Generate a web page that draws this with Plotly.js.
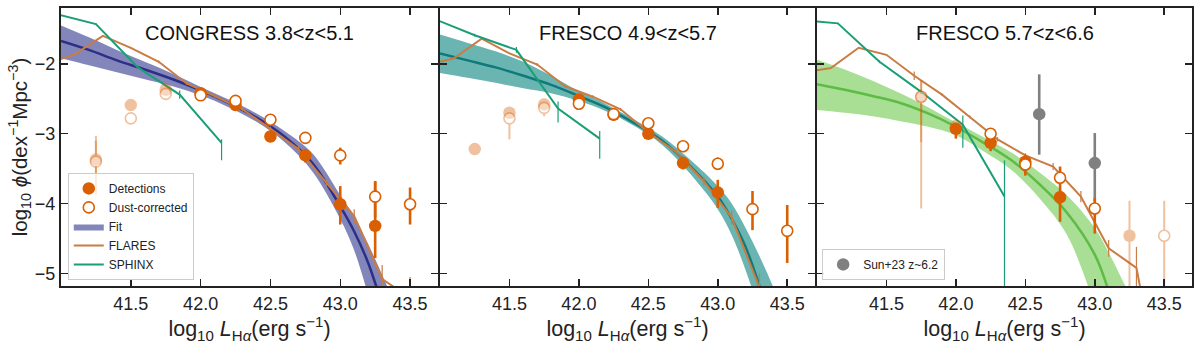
<!DOCTYPE html>
<html>
<head>
<meta charset="utf-8">
<script src="https://cdn.plot.ly/plotly-3.0.1.min.js"></script>
<style>
  body { margin: 0; background: #fff; }
  #chart { width: 1200px; height: 344px; }
</style>
</head>
<body>
<div id="chart"></div>
<script>
// ---- data (log10 L_Halpha, log10 phi) ----
const L_fit = [41.0, 41.2, 41.4, 41.6, 41.8, 42.0, 42.2, 42.4, 42.6, 42.8, 43.0, 43.1, 43.2, 43.3, 43.4, 43.5];

const fit1_mid = [-1.67, -1.80, -1.95, -2.08, -2.22, -2.38, -2.56, -2.77, -3.04, -3.42, -4.04, -4.40, -4.85, -5.45, -6.1, -6.8];
const fit1_lo  = [-1.92, -2.02, -2.12, -2.22, -2.32, -2.45, -2.62, -2.83, -3.12, -3.54, -4.22, -4.67, -5.30, -5.9, -6.6, -7.3];
const fit1_hi  = [-1.45, -1.62, -1.80, -1.97, -2.14, -2.33, -2.51, -2.71, -2.96, -3.28, -3.88, -4.18, -4.58, -5.02, -5.5, -6.1];

const fit2_mid = [-1.85, -1.95, -2.05, -2.17, -2.30, -2.46, -2.63, -2.85, -3.10, -3.46, -3.90, -4.22, -4.62, -5.18, -5.8, -6.5];
const fit2_lo  = [-2.13, -2.20, -2.27, -2.35, -2.42, -2.53, -2.68, -2.89, -3.16, -3.57, -4.08, -4.45, -4.95, -5.55, -6.2, -6.9];
const fit2_hi  = [-1.58, -1.70, -1.82, -1.97, -2.17, -2.39, -2.58, -2.80, -3.04, -3.37, -3.75, -4.00, -4.35, -4.75, -5.2, -5.7];

const fit3_mid = [-2.29, -2.37, -2.46, -2.56, -2.71, -2.90, -3.13, -3.38, -3.72, -4.13, -4.73, -5.25, -5.9, -6.6, -7.4, -8.2];
const fit3_lo  = [-2.66, -2.70, -2.75, -2.82, -2.90, -3.02, -3.25, -3.52, -3.92, -4.45, -5.45, -6.0, -6.7, -7.4, -8.2, -9.0];
const fit3_hi  = [-1.94, -2.08, -2.24, -2.42, -2.62, -2.84, -3.05, -3.27, -3.55, -3.88, -4.35, -4.70, -5.10, -5.5, -6.0, -6.5];

// FLARES
const L_flares = [40.9, 41.1, 41.3, 41.5, 41.7, 41.9, 42.1, 42.3, 42.5, 42.7, 42.9, 43.1, 43.3, 43.5];
const flares1 = [-2.00, -1.86, -1.60, -1.77, -1.97, -2.28, -2.46, -2.65, -2.93, -3.22, -3.70, -4.18, -5.08, -5.35];
const flares2 = [-2.02, -1.92, -1.64, -1.85, -2.01, -2.32, -2.47, -2.65, -2.98, -3.26, -3.68, -4.20, -5.20, -5.60];
const flares3 = [-2.12, -2.06, -1.77, -1.87, -2.17, -2.44, -2.76, -3.08, -3.31, -3.47, -3.90, -4.64, -4.92, -7.00];
const flares1_err = [0, 0, 0.01, 0.01, 0.02, 0.02, 0.02, 0.02, 0.03, 0.04, 0.05, 0.10, 0.2, 0.3];
const flares2_err = [0, 0, 0.01, 0.01, 0.02, 0.02, 0.02, 0.02, 0.03, 0.04, 0.06, 0.10, 0.2, 0.3];
const flares3_err = [0, 0, 0.01, 0.01, 0.06, 0.02, 0.02, 0.03, 0.03, 0.05, 0.08, 0.12, 0.3, 0.3];

// SPHINX
const L_sphinx12 = [40.95, 41.25, 41.55, 41.85, 42.15];
const sphinx1 = [-1.28, -1.43, -2.05, -2.44, -3.13];
const sphinx1_ep = [0, 0.01, 0.02, 0.06, 0.05];
const sphinx1_em = [0, 0.01, 0.02, 0.06, 0.25];
const sphinx2 = [-1.35, -1.59, -1.80, -2.64, -3.07];
const sphinx2_ep = [0, 0.02, 0.04, 0.10, 0.11];
const sphinx2_em = [0, 0.02, 0.04, 0.20, 0.29];
const L_sphinx3 = [40.85, 41.15, 41.45, 41.75, 42.05, 42.35];
const sphinx3 = [-1.37, -1.42, -1.97, -2.40, -2.87, -3.90];
const sphinx3_ep = [0, 0.01, 0.02, 0.03, 0.13, 0.52];
const sphinx3_em = [0, 0.01, 0.02, 0.03, 0.33, 3.0];

// CONGRESS 3.8<z<5.1
const det1_x = [42.0, 42.25, 42.5, 42.75, 43.0, 43.25];
const det1_y = [-2.42, -2.59, -3.04, -3.31, -4.01, -4.32];
const det1_ep = [0.04, 0.04, 0.05, 0.09, 0.26, 0.64];
const det1_em = [0.04, 0.04, 0.06, 0.10, 0.29, 0.46];
const dust1_x = [42.0, 42.25, 42.5, 42.75, 43.0, 43.25, 43.5];
const dust1_y = [-2.45, -2.53, -2.80, -3.06, -3.31, -3.90, -4.01];
const dust1_ep = [0.03, 0.03, 0.03, 0.07, 0.11, 0.22, 0.24];
const dust1_em = [0.03, 0.03, 0.03, 0.07, 0.13, 0.30, 0.29];
const fdet1_x = [41.25, 41.5, 41.75];
const fdet1_y = [-3.37, -2.59, -2.37];
const fdet1_ep = [0.34, 0.05, 0.05];
const fdet1_em = [0.51, 0.05, 0.05];
const fdust1_x = [41.25, 41.5, 41.75];
const fdust1_y = [-3.40, -2.78, -2.43];
const fdust1_ep = [0.30, 0.06, 0.05];
const fdust1_em = [0.45, 0.08, 0.05];

// FRESCO 4.9<z<5.7
const det2_x = [42.0, 42.25, 42.5, 42.75, 43.0];
const det2_y = [-2.51, -2.73, -3.00, -3.42, -3.84];
const det2_ep = [0.04, 0.03, 0.06, 0.09, 0.18];
const det2_em = [0.04, 0.03, 0.06, 0.09, 0.22];
const dust2_x = [42.0, 42.25, 42.5, 42.75, 43.0, 43.25, 43.5];
const dust2_y = [-2.57, -2.72, -2.85, -3.18, -3.43, -4.08, -4.39];
const dust2_ep = [0.03, 0.03, 0.04, 0.06, 0.09, 0.26, 0.37];
const dust2_em = [0.03, 0.03, 0.04, 0.06, 0.09, 0.30, 0.46];
const fdet2_x = [41.25, 41.5, 41.75];
const fdet2_y = [-3.22, -2.70, -2.58];
const fdet2_ep = [0, 0.06, 0.08];
const fdet2_em = [0, 0.06, 0.08];
const fdust2_x = [41.5, 41.75];
const fdust2_y = [-2.78, -2.63];
const fdust2_ep = [0.06, 0.06];
const fdust2_em = [0.30, 0.12];

// FRESCO 5.7<z<6.6
const det3_x = [42.0, 42.25, 42.5, 42.75];
const det3_y = [-2.93, -3.13, -3.40, -3.91];
const det3_ep = [0.05, 0.05, 0.10, 0.44];
const det3_em = [0.14, 0.12, 0.20, 0.35];
const dust3_x = [42.25, 42.5, 42.75, 43.0];
const dust3_y = [-3.00, -3.44, -3.63, -4.07];
const dust3_ep = [0.03, 0.08, 0.08, 0.15];
const dust3_em = [0.03, 0.08, 0.08, 0.36];
const fdet3_x = [41.75, 42.0, 43.25];
const fdet3_y = [-2.47, -2.89, -4.46];
const fdet3_ep = [0.23, 0.04, 0.50];
const fdet3_em = [1.60, 0.10, 2.0];
const fdust3_x = [41.75, 43.5];
const fdust3_y = [-2.47, -4.46];
const fdust3_ep = [0.23, 0.50];
const fdust3_em = [0.65, 2.0];
const sun_x = [42.6, 43.0];
const sun_y = [-2.72, -3.42];
const sun_ep = [0.57, 0.43];
const sun_em = [0.58, 0.55];

const panelTitles = ['CONGRESS 3.8&lt;z&lt;5.1', 'FRESCO 4.9&lt;z&lt;5.7', 'FRESCO 5.7&lt;z&lt;6.6'];

// ---- styling ----
const ORANGE = '#d95f02';
const FLARES_C = '#c97c43';
const SPHINX_C = '#1b9e77';
const FIT_FILL = ['#8386ba', '#6ab4b2', '#a9de95'];
const FIT_LINE = ['#2d2f86', '#0f7a7a', '#5dbb46'];

function ax(n) {
  return n === 1 ? {xaxis: 'x', yaxis: 'y'} : {xaxis: 'x' + n, yaxis: 'y' + n};
}

function errs(ep, em, color, thick) {
  return {type: 'data', symmetric: false, array: ep, arrayminus: em,
          color: color, thickness: thick, width: 0};
}

function fitTraces(n, lo, mid, hi) {
  return [
    Object.assign({x: L_fit, y: lo, mode: 'lines', line: {width: 0, shape: 'spline', color: FIT_FILL[n-1]},
                   showlegend: false, hoverinfo: 'skip'}, ax(n)),
    Object.assign({x: L_fit, y: hi, mode: 'lines', fill: 'tonexty', fillcolor: FIT_FILL[n-1],
                   line: {width: 0, shape: 'spline', color: FIT_FILL[n-1]}, name: 'Fit',
                   showlegend: n === 1, legendrank: 3}, ax(n)),
    Object.assign({x: L_fit, y: mid, mode: 'lines', line: {width: 2.5, shape: 'spline', color: FIT_LINE[n-1]},
                   showlegend: false}, ax(n))
  ];
}

function simLine(n, x, y, ep, em, color, name, rank, w) {
  return Object.assign({x: x, y: y, mode: 'lines', name: name, line: {color: color, width: w},
                        error_y: errs(ep, em, color, 1.2), showlegend: n === 1, legendrank: rank}, ax(n));
}

function points(n, x, y, ep, em, open, faded, name, rank) {
  return Object.assign({
    x: x, y: y, mode: 'markers', name: name,
    opacity: faded ? 0.38 : 1,
    marker: {symbol: 'circle', size: open ? 11 : 12.5,
             color: open ? '#ffffff' : ORANGE,
             line: {color: ORANGE, width: open ? 1.6 : 0}},
    error_y: errs(ep, em, ORANGE, faded ? 2 : 2.6),
    showlegend: !faded && n === 1, legendrank: rank
  }, ax(n));
}

const traces = [].concat(
  fitTraces(1, fit1_lo, fit1_mid, fit1_hi),
  fitTraces(2, fit2_lo, fit2_mid, fit2_hi),
  fitTraces(3, fit3_lo, fit3_mid, fit3_hi),
  [
    simLine(1, L_flares, flares1, flares1_err, flares1_err, FLARES_C, 'FLARES', 4, 2),
    simLine(2, L_flares, flares2, flares2_err, flares2_err, FLARES_C, 'FLARES', 4, 2),
    simLine(3, L_flares, flares3, flares3_err, flares3_err, FLARES_C, 'FLARES', 4, 2),
    simLine(1, L_sphinx12, sphinx1, sphinx1_ep, sphinx1_em, SPHINX_C, 'SPHINX', 5, 2),
    simLine(2, L_sphinx12, sphinx2, sphinx2_ep, sphinx2_em, SPHINX_C, 'SPHINX', 5, 2),
    simLine(3, L_sphinx3, sphinx3, sphinx3_ep, sphinx3_em, SPHINX_C, 'SPHINX', 5, 2),

    points(1, fdet1_x, fdet1_y, fdet1_ep, fdet1_em, false, true, 'faded', 9),
    points(1, fdust1_x, fdust1_y, fdust1_ep, fdust1_em, true, true, 'faded', 9),
    points(2, fdet2_x, fdet2_y, fdet2_ep, fdet2_em, false, true, 'faded', 9),
    points(2, fdust2_x, fdust2_y, fdust2_ep, fdust2_em, true, true, 'faded', 9),
    points(3, fdet3_x, fdet3_y, fdet3_ep, fdet3_em, false, true, 'faded', 9),
    points(3, fdust3_x, fdust3_y, fdust3_ep, fdust3_em, true, true, 'faded', 9),

    Object.assign({x: sun_x, y: sun_y, mode: 'markers', name: 'Sun+23 z~6.2', legend: 'legend2',
                   marker: {size: 12.5, color: '#808080'},
                   error_y: errs(sun_ep, sun_em, '#808080', 2.6)}, ax(3)),

    points(1, det1_x, det1_y, det1_ep, det1_em, false, false, 'Detections', 1),
    points(1, dust1_x, dust1_y, dust1_ep, dust1_em, true, false, 'Dust-corrected', 2),
    points(2, det2_x, det2_y, det2_ep, det2_em, false, false, 'Detections', 1),
    points(2, dust2_x, dust2_y, dust2_ep, dust2_em, true, false, 'Dust-corrected', 2),
    points(3, det3_x, det3_y, det3_ep, det3_em, false, false, 'Detections', 1),
    points(3, dust3_x, dust3_y, dust3_ep, dust3_em, true, false, 'Dust-corrected', 2)
  ]
);

const axisColor = '#222222';
const xTitle = 'log<sub>10</sub> <i>L</i><sub>H<i>α</i></sub>(erg s<sup>−1</sup>)';
const yTitle = 'log<sub>10</sub> <i>ϕ</i>(dex<sup>−1</sup>Mpc<sup>−3</sup>)';
const GAP = 2 / 1131;   // lets neighbouring frame lines fall on top of each other

function xAxis(n) {
  return {
    domain: [(n-1)/3 + (n > 1 ? GAP : 0), n/3], anchor: n === 1 ? 'y' : 'y' + n,
    range: [41.0, 43.7],
    tickvals: [41.5, 42.0, 42.5, 43.0, 43.5],
    ticktext: ['41.5', '42.0', '42.5', '43.0', '43.5'],
    ticks: 'inside', ticklen: 7, tickwidth: 1.5, tickcolor: axisColor,
    showline: true, linecolor: axisColor, linewidth: 2, mirror: 'ticks',
    showgrid: false, zeroline: false,
    tickfont: {size: 18, color: axisColor},
    title: {text: xTitle, font: {size: 21.5, color: axisColor}, standoff: 0}
  };
}

function yAxis(n) {
  const a = {
    domain: [0, 1], anchor: n === 1 ? 'x' : 'x' + n,
    range: [-5.18, -1.20],
    tickvals: [-5, -4, -3, -2],
    ticks: 'inside', ticklen: 7, tickwidth: 1.5, tickcolor: axisColor,
    showline: true, linecolor: axisColor, linewidth: 2, mirror: 'ticks',
    showgrid: false, zeroline: false,
    showticklabels: n === 1,
    tickfont: {size: 18, color: axisColor}
  };
  if (n === 1) a.title = {text: yTitle, font: {size: 20.5, color: axisColor}, standoff: 2};
  return a;
}

const annotations = panelTitles.map(function (t, i) {
  const k = i === 0 ? '' : String(i + 1);
  return {xref: 'x' + k + ' domain', yref: 'y' + k + ' domain', x: 0.5, y: 0.91,
          text: t, showarrow: false, font: {size: 20, color: '#111'},
          xanchor: 'center', yanchor: 'middle'};
});

const layout = {
  width: 1200, height: 344,
  margin: {l: 61, r: 8, t: 8, b: 58},
  paper_bgcolor: '#ffffff', plot_bgcolor: '#ffffff',
  font: {family: 'Liberation Sans, Arial, sans-serif', color: axisColor},
  showlegend: true,
  legend: {x: 0.006, y: 0.022, xanchor: 'left', yanchor: 'bottom',
           bgcolor: 'rgba(255,255,255,0.8)', bordercolor: '#cccccc', borderwidth: 1,
           font: {size: 12}, traceorder: 'normal', itemwidth: 30},
  legend2: {x: 0.673, y: 0.022, xanchor: 'left', yanchor: 'bottom',
            bgcolor: 'rgba(255,255,255,0.8)', bordercolor: '#cccccc', borderwidth: 1,
            font: {size: 12}},
  xaxis: xAxis(1), xaxis2: xAxis(2), xaxis3: xAxis(3),
  yaxis: yAxis(1), yaxis2: yAxis(2), yaxis3: yAxis(3),
  annotations: annotations
};

Plotly.newPlot('chart', traces, layout, {displayModeBar: false, staticPlot: true});
</script>
</body>
</html>
